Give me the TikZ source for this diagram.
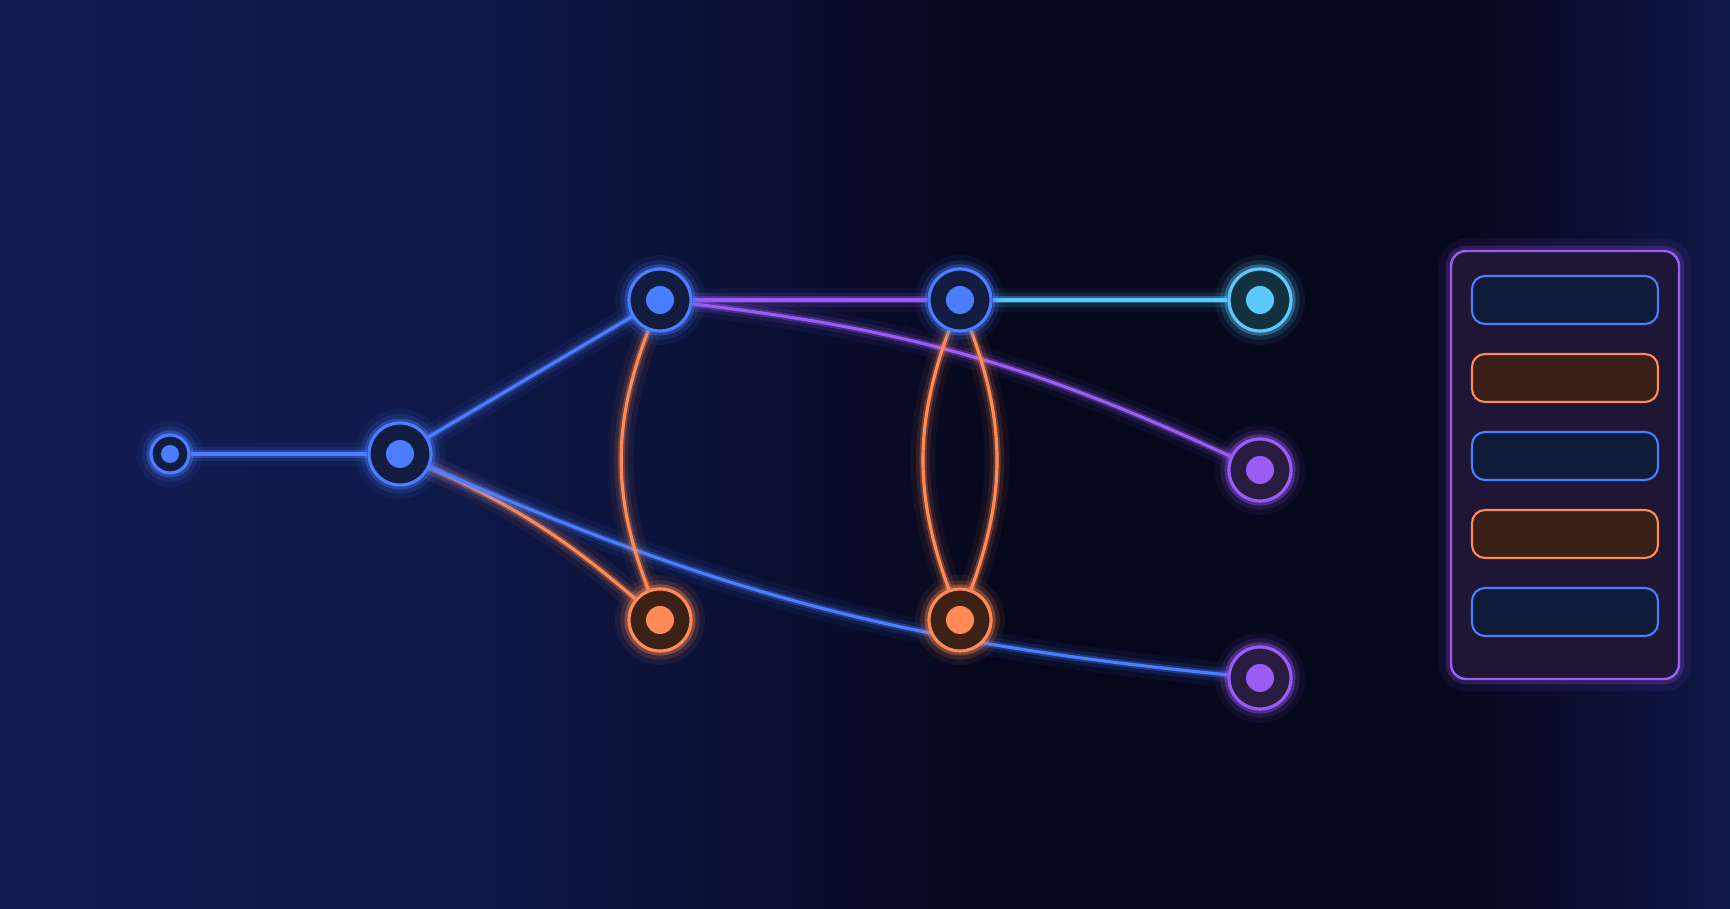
\documentclass[tikz,border=0pt]{standalone}
\usepackage{tikz}
\usetikzlibrary{positioning}

% palette
\definecolor{bgleft}{HTML}{101B50}
\definecolor{bgdark}{HTML}{05071B}
\definecolor{bgright}{HTML}{0F1748}
\definecolor{nblue}{HTML}{4A7DFF}
\definecolor{npurple}{HTML}{9B5CF6}
\definecolor{norange}{HTML}{FF8A55}
\definecolor{ncyan}{HTML}{5CC8FF}
\definecolor{dkblue}{HTML}{111C3E}
\definecolor{dkorange}{HTML}{3C2216}
\definecolor{dkpurple}{HTML}{2A1B40}
\definecolor{dkcyan}{HTML}{14303F}
\definecolor{panelfill}{HTML}{1F1636}
\definecolor{barblue}{HTML}{101B3A}
\definecolor{barorange}{HTML}{3A2019}

% path is fitted to 25bp--75bp of the shading
\pgfdeclarehorizontalshading{backdrop}{100bp}{color(0bp)=(bgleft); color(25bp)=(bgleft); color(36bp)=(bgleft!90!bgdark); color(45bp)=(bgleft!55!bgdark); color(54bp)=(bgdark); color(67bp)=(bgdark); color(75bp)=(bgright); color(100bp)=(bgright)}

\pgfdeclarelayer{back}
\pgfdeclarelayer{wires}
\pgfsetlayers{back,wires,main}

\tikzset{
  dotsize/.store in=\dotr, dotsize=1.4mm,
  hub/.style 2 args={circle, minimum size=6.2mm, inner sep=0pt, fill=#2, draw=#1, line width=.9pt,
    preaction={draw=#1, line width=8pt, opacity=.07},
    preaction={draw=#1, line width=5pt, opacity=.14},
    preaction={draw=#1, line width=2.6pt, opacity=.35},
    path picture={\fill[#1] (path picture bounding box.center) circle (\dotr);}},
  wire/.style={draw=#1, line width=.9pt,
    preaction={draw=#1, line width=7pt, opacity=.06},
    preaction={draw=#1, line width=4pt, opacity=.12},
    preaction={draw=#1, line width=2pt, opacity=.3}},
  panel/.style={rounded corners=1.5mm, minimum width=22.8mm, minimum height=42.8mm,
    fill=panelfill, draw=npurple, line width=.7pt,
    preaction={draw=npurple, line width=7pt, opacity=.08},
    preaction={draw=npurple, line width=3pt, opacity=.2}},
  slot/.style={rounded corners=1.3mm, minimum width=18.6mm, minimum height=4.8mm, line width=.6pt}
}

\begin{document}
\begin{tikzpicture}[x=0.1mm, y=0.1mm]

% Backdrop
\begin{pgfonlayer}{back}
\shade[shading=backdrop] (0,0) rectangle (1730,909);
\end{pgfonlayer}
\useasboundingbox (0,0) rectangle (1730,909);

% Nodes
\node[hub={nblue}{dkblue}, minimum size=3.8mm, dotsize=.9mm] (src) at (170,455) {};
\node[hub={nblue}{dkblue}] (split) at (400,455) {};
\node[hub={nblue}{dkblue}] (upa) at (660,609) {};
\node[hub={nblue}{dkblue}] (upb) at (960,609) {};
\node[hub={ncyan}{dkcyan}] (goal) at (1260,609) {};
\node[hub={npurple}{dkpurple}] (outa) at (1260,439) {};
\node[hub={npurple}{dkpurple}] (outb) at (1260,231) {};
\node[hub={norange}{dkorange}] (lowa) at (660,289) {};
\node[hub={norange}{dkorange}] (lowb) at (960,289) {};

% Links
\begin{pgfonlayer}{wires}
\draw[wire=nblue] (src) -- (split);
\draw[wire=nblue] (split) -- (upa);
\draw[wire=norange] (split) to[bend left=8] (lowa);
\draw[wire=nblue] (split) to[bend right=9] (outb);
\draw[wire=npurple] (upa) -- (upb);
\draw[wire=ncyan] (upb) -- (goal);
\draw[wire=npurple] (upa) to[bend left=9] (outa);

% Cross links
\draw[wire=norange] (upa) to[bend right=21] (lowa);
\draw[wire=norange] (upb) to[bend right=20] (lowb);
\draw[wire=norange] (upb) to[bend left=20] (lowb);
\end{pgfonlayer}

% Side panel
\node[panel] (board) at (1565,444) {};
\foreach \row/\edge/\inside in {0/nblue/barblue, 1/norange/barorange, 2/nblue/barblue, 3/norange/barorange, 4/nblue/barblue}
  \node[slot, draw=\edge, fill=\inside] (slot\row) at (1565,{609-78*\row}) {};

\end{tikzpicture}
\end{document}
